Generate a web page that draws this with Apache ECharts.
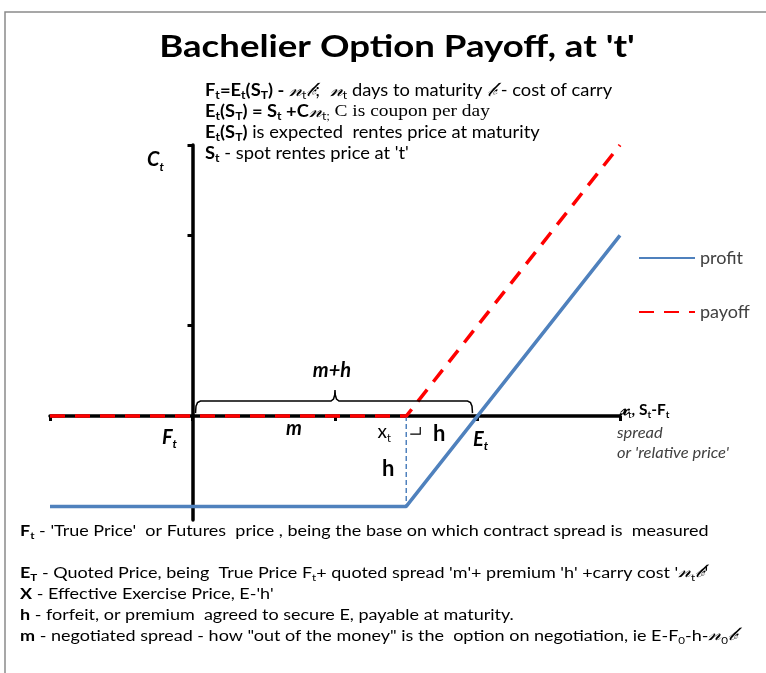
<!DOCTYPE html>
<html><head><meta charset="utf-8">
<script src="https://cdn.jsdelivr.net/npm/echarts@6/dist/echarts.min.js"></script>
<style>html,body{margin:0;padding:0;background:#fff}#c{width:766px;height:673px}</style>
</head><body><div id="c"></div>
<script>
// ---- data (in diagram units) ----
const xValues = [-1, 1.5, 3];
const payoffValues = [0, 0, 3];
const profitValues = [-1, -1, 2];
const seriesNames = ['profit', 'payoff'];
const yTickValues = [1, 2, 3];
const strikeX = 1.5;     // X (effective exercise price)
const quoteE = 2;        // E_t
const forfeitH = -1;     // h below zero
const braceMid = 1;      // peak of the m+h brace

const F = "Lato, 'Open Sans', sans-serif";
const SC = "'DejaVu Serif', serif";
function mkRich(fs, sub) {
  return {
    b: {fontFamily: F, fontWeight: 'bold', fontSize: fs, color: '#000', lineHeight: 21},
    bs: {fontFamily: F, fontWeight: 'bold', fontSize: sub, color: '#000', verticalAlign: 'bottom'},
    n: {fontFamily: F, fontSize: fs, color: '#333', lineHeight: 21},
    s: {fontFamily: F, fontSize: sub, color: '#333', verticalAlign: 'bottom'},
    sc: {fontFamily: SC, fontStyle: 'italic', fontSize: fs + 3, color: '#333', lineHeight: 21},
    scs: {fontFamily: F, fontSize: sub, color: '#333', verticalAlign: 'bottom'},
    sf: {fontFamily: "'Liberation Serif', serif", fontSize: fs + 1, color: '#333', lineHeight: 21}
  };
}
const topNotes = [
  "{b|F}{bs|t}{b|=E}{bs|t}{b|(S}{bs|T}{b|) - }{sc|𝓃}{scs|t}{sc|𝒷}{n|;  }{sc|𝓃}{scs|t}{n| days to maturity }{sc|𝒷}{n| - cost of carry}",
  "{b|E}{bs|t}{b|(S}{bs|T}{b|) = S}{bs|t}{b| +C}{sc|𝓃}{scs|t;}{sf| C is coupon per day}",
  "{b|E}{bs|t}{b|(S}{bs|T}{b|)}{n| is expected  rentes price at maturity}",
  "{b|S}{bs|t}{n| - spot rentes price at 't'}"
].join('\n');
const bottomNotes = [
  "{b|F}{bs|t}{n| - 'True Price'  or Futures  price , being the base on which contract spread is  measured}",
  "{n| }",
  "{b|E}{bs|T}{n| - Quoted Price, being  True Price F}{s|t}{n|+ quoted spread 'm'+ premium 'h' +carry cost '}{sc|𝓃}{scs|t}{sc|𝒷}{n|'}",
  "{b|X}{n| - Effective Exercise Price, E-'h'}",
  "{b|h}{n| - forfeit, or premium  agreed to secure E, payable at maturity.}",
  "{b|m}{n| - negotiated spread - how \"out of the money\" is the  option on negotiation, ie E-F}{s|0}{n|-h-}{sc|𝓃}{scs|0}{sc|𝒷}"
].join('\n');

const chart = echarts.init(document.getElementById('c'), null, {renderer: 'canvas'});
const pairs = v => xValues.map((x, i) => [x, v[i]]);
chart.setOption({
  animation: false,
  backgroundColor: '#fff',
  grid: {left: 50, right: 146, top: 145, bottom: 153},
  xAxis: {
    type: 'value', min: -1, max: 3, interval: 1,
    axisLine: {onZero: true, lineStyle: {color: '#000', width: 3.5}},
    axisTick: {show: true, length: 5, lineStyle: {color: '#000', width: 3}},
    axisLabel: {show: false}, splitLine: {show: false}
  },
  yAxis: {
    type: 'value', min: -1.15, max: 3,
    axisLine: {show: true, onZero: true, lineStyle: {color: '#000', width: 3.5}},
    axisTick: {show: true, length: 5, customValues: yTickValues, lineStyle: {color: '#000', width: 3}},
    axisLabel: {show: false}, splitLine: {show: false}
  },
  legend: {
    data: seriesNames, orient: 'vertical', left: 638, top: 249, padding: 0,
    itemWidth: 56, itemHeight: 14, itemGap: 36,
    itemStyle: {opacity: 0},
    textStyle: {fontFamily: F, fontSize: 18, color: '#404040'}
  },
  series: [
    {name: seriesNames[0], type: 'line', symbol: 'none', data: pairs(profitValues), z: 3,
      lineStyle: {color: '#4F81BD', width: 3.5}, itemStyle: {color: '#4F81BD'}},
    {name: seriesNames[1], type: 'line', symbol: 'none', data: pairs(payoffValues), z: 4,
      lineStyle: {color: '#FF0000', width: 3.5, type: [15, 10]}, itemStyle: {color: '#FF0000'}},
    {name: 'hline', type: 'line', symbol: 'none', data: [[strikeX, 0], [strikeX, forfeitH]], z: 2,
      lineStyle: {color: '#4F81BD', width: 1.5, type: [5, 3]}}
  ]
});

const px = (x, y) => chart.convertToPixel({gridIndex: 0}, [x, y]);
const [x0, ya] = px(0, 0);
const [xm] = px(braceMid, 0);
const [xs] = px(strikeX, 0);
const [xe] = px(quoteE, 0);
const [xEnd, yTop] = px(3, 3);
const [, yH] = px(0, forfeitH);
const biI = {fontFamily: F, fontWeight: 'bold', fontStyle: 'italic', fill: '#000'};
const txt = (text, x, y, st) => ({type: 'text', x, y, z: 10, style: Object.assign({text, align: 'center', verticalAlign: 'middle'}, st)});
const subRich = {i: Object.assign({fontSize: 20, lineHeight: 26}, biI), is: Object.assign({fontSize: 12, verticalAlign: 'bottom'}, biI)};
const yt = ya - 15, yp = ya - 26, yb = ya - 3;
const bx0 = x0 + 3, bx2 = xe - 5;
const bracePts = [[bx0, yb], [bx0 + 0.5, yt + 5], [bx0 + 2, yt + 1.5], [bx0 + 5, yt], [xm - 4, yt], [xm - 1.5, yt - 2],
  [xm - 0.3, yt - 6], [xm, yp], [xm + 0.3, yt - 6], [xm + 1.5, yt - 2], [xm + 4, yt], [bx2 - 5, yt], [bx2 - 2, yt + 1.5], [bx2 - 0.5, yt + 5], [bx2, yb]];
chart.setOption({
  graphic: [
    {type: 'rect', shape: {x: 5, y: 12, width: 900, height: 800}, style: {fill: 'none', stroke: '#8a8a8a', lineWidth: 1.5}, z: -1},
    {type: 'text', x: 397, y: 47, scaleX: 1.22, style: {text: "Bachelier Option Payoff, at 't'", align: 'center', verticalAlign: 'middle', fontFamily: F, fontWeight: 'bold', fontSize: 30, fill: '#000'}},
    {type: 'text', x: 205, y: 80, scaleX: 1.11, style: {text: topNotes, rich: mkRich(16.5, 11)}},
    {type: 'text', x: 20, y: 520, scaleX: 1.16, style: {text: bottomNotes, rich: mkRich(15.5, 10)}},
    {type: 'polyline', z: 10, shape: {points: bracePts}, style: {fill: 'none', stroke: '#000', lineWidth: 1.5}},
    {type: 'polyline', z: 10, shape: {points: [[xs + 4, ya + 18], [xs + 14, ya + 18], [xs + 14, ya + 11]]}, style: {stroke: '#000', lineWidth: 1.2, fill: 'none'}},
    txt('m+h', xm - 3, ya - 46, Object.assign({fontSize: 20}, biI)),
    txt('m', xm - 41, ya + 12, Object.assign({fontSize: 20}, biI)),
    txt('{i|F}{is|t}', x0 - 23, ya + 21, {rich: subRich}),
    txt('{i|E}{is|t}', xe + 3, ya + 23, {rich: subRich}),
    txt('{i|C}{is|t}', x0 - 37, yTop + 15, {rich: subRich}),
    txt('{i|x}{is|t}', xs - 22, ya + 16, {rich: {i: {fontFamily: F, fontSize: 19, fill: '#000', lineHeight: 24}, is: {fontFamily: F, fontSize: 11, fill: '#000', verticalAlign: 'bottom'}}}),
    txt('h', xs + 33, ya + 18, {fontFamily: F, fontWeight: 'bold', fontSize: 22, fill: '#000'}),
    txt('h', xs - 18, (ya + yH) / 2 + 8, {fontFamily: F, fontWeight: 'bold', fontSize: 22, fill: '#000'}),
    {type: 'text', x: xEnd, y: ya - 6, z: 10, style: {text: '{sc|𝓍}{scs|t}{b|, S}{bs|t}{b|-F}{bs|t}', verticalAlign: 'middle', rich: {
      sc: {fontFamily: SC, fontStyle: 'italic', fontWeight: 'bold', fontSize: 18, fill: '#000', lineHeight: 20},
      scs: {fontFamily: F, fontSize: 10, fill: '#000', verticalAlign: 'bottom'},
      b: {fontFamily: F, fontWeight: 'bold', fontSize: 15.5, fill: '#000', lineHeight: 20},
      bs: {fontFamily: F, fontWeight: 'bold', fontSize: 10, fill: '#000', verticalAlign: 'bottom'}}}},
    {type: 'text', x: xEnd - 3, y: ya + 7, z: 10, scaleX: 1.1, style: {text: "spread\nor 'relative price'", fontFamily: F, fontStyle: 'italic', fontSize: 15, lineHeight: 20, fill: '#404040'}}
  ]
});
</script></body></html>
